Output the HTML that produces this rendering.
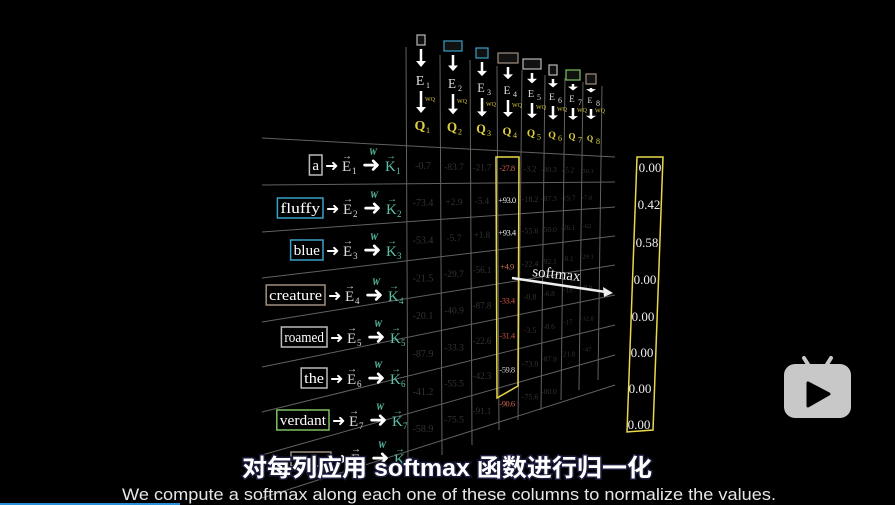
<!DOCTYPE html>
<html><head><meta charset="utf-8"><style>
html,body{margin:0;padding:0;background:#000;width:895px;height:505px;overflow:hidden}
svg{display:block}
.serif{font-family:"Liberation Serif",serif}
</style></head><body>
<svg id="s" width="895" height="505" viewBox="0 0 895 505" xmlns="http://www.w3.org/2000/svg">
<rect width="895" height="505" fill="#000"/>
<g id="grid" stroke="#8a8a8a" stroke-width="1" opacity="0.7"></g>
<g id="content" class="serif"></g>
<polygon points="496,157 519,157 518,386 497,398" fill="none" stroke="#e8d84a" stroke-width="1.5"/>
<polygon points="637,157 663,157 653,430 627,432" fill="none" stroke="#e8d84a" stroke-width="1.5"/>
<g class="serif" fill="#eee" font-size="13">
<text x="650" y="172" text-anchor="middle">0.00</text>
<text x="649" y="209" text-anchor="middle">0.42</text>
<text x="647" y="247" text-anchor="middle">0.58</text>
<text x="645" y="284" text-anchor="middle">0.00</text>
<text x="643" y="321" text-anchor="middle">0.00</text>
<text x="642" y="357" text-anchor="middle">0.00</text>
<text x="640" y="393" text-anchor="middle">0.00</text>
<text x="639" y="429" text-anchor="middle">0.00</text>
</g>
<text x="532" y="276" class="serif" fill="#eee" font-size="15" transform="rotate(6 532 276)">softmax</text>
<line x1="512" y1="278" x2="606" y2="292" stroke="#eee" stroke-width="2.5"/>
<polygon points="613,293 603,287 604,297" fill="#eee"/>
<g fill="#c8c8c8">
<rect x="784" y="364" width="67" height="54" rx="11"/>
<line x1="804" y1="358" x2="809" y2="366" stroke="#c8c8c8" stroke-width="4" stroke-linecap="round"/>
<line x1="831" y1="358" x2="826" y2="366" stroke="#c8c8c8" stroke-width="4" stroke-linecap="round"/>
<polygon points="808,383 808,406 829,394" fill="#000" stroke="#000" stroke-width="3" stroke-linejoin="round"/>
</g>
<text x="447" y="476" text-anchor="middle" font-family="'Liberation Sans','Noto Sans CJK SC',sans-serif" font-size="24" font-weight="bold" fill="#fff" stroke="#1a1a3a" stroke-width="3" paint-order="stroke" textLength="410" lengthAdjust="spacingAndGlyphs">对每列应用 softmax 函数进行归一化</text>
<text x="122" y="500" font-family="'Liberation Sans',sans-serif" font-size="17" fill="#e6e6e6" textLength="654" lengthAdjust="spacingAndGlyphs">We compute a softmax along each one of these columns to normalize the values.</text>
<rect x="0" y="503" width="180" height="2" fill="#2a8fd6"/>
</svg>
<script>
const NS="http://www.w3.org/2000/svg";
const g=document.getElementById('grid'), c=document.getElementById('content');
function el(p,tag,a,txt){const e=document.createElementNS(NS,tag);for(const k in a)e.setAttribute(k,a[k]);if(txt!=null)e.textContent=txt;p.appendChild(e);return e;}
const L=[138,185,232,278,322,367,412,455,498], R=[157,182,207,236,265,295,325,355,385];
const x0=262,x1=615;
for(let i=0;i<9;i++) el(g,'line',{x1:x0,y1:L[i],x2:x1,y2:R[i]});
const V=[[406,47,465],[440,55,455],[470,60,445],[497,66,430],[522,70,420],[545,75,410],[565,78,400],[583,82,390],[602,86,380]];
V.forEach(v=>el(g,'line',{x1:v[0],y1:v[1],x2:v[0]+(v[0]>500?-4:2),y2:v[2]}));
function yAt(i,x){return L[i]+(R[i]-L[i])*(x-x0)/(x1-x0);}
const cols=[423,454,482,507,530,549,568,587];
const data=[
["-0.7","-83.7","-21.7","-27.8","-3.2","-80.3","45.2","-30.1"],
["-73.4","+2.9","-5.4","+93.0","-18.2","-87.3","-19.7","-7.8"],
["-53.4","-5.7","+1.8","+93.4","-55.6","-50.0","-26.1","-62"],
["-21.5","-29.7","-56.1","+4.9","-22.4","-92.1","-8.1","-29.1"],
["-20.1","-40.9","-87.8","-33.4","-0.8","-6.8","-18","-9.8"],
["-87.9","-33.3","-22.6","-31.4","-3.5","-8.6","-17","-32.8"],
["-41.2","-55.5","-42.3","-59.8","-73.0","-87.9","-21.8","-47"],
["-58.9","-75.5","-91.1","-90.6","-75.6","-80.0","",""]];
const hi={0:"#c86050",1:"#eee",2:"#eee",3:"#c87050",4:"#c85040",5:"#c85040",6:"#ccc",7:"#c86050"};
for(let r=0;r<8;r++)for(let k=0;k<8;k++){
 const x=cols[k];const y=(yAt(r,x)+yAt(r+1,x))/2+4;
 const h=k==3;const sz=Math.max(6,10-k*0.5);
 el(c,'text',{x:x,y:y,'text-anchor':'middle','font-size':h?8.5:sz,fill:h?hi[r]:'#333','letter-spacing':h?'-0.5':'0'},data[r][k]);
}
const words=[["a","#bbb"],["fluffy","#3aa0c8"],["blue","#3aa0c8"],["creature","#a09080"],["roamed","#bbb"],["the","#bbb"],["verdant","#7cc060"],["","#a09080"]];
const ry=[165,208,250,295,337,378,420,458], rx=[322,323,323,325,327,327,329,331];
for(let i=0;i<8;i++){
 const y=ry[i],xr=rx[i];const w=words[i][0];
 if(w){const bw=w.length*6.6+6;
  el(c,'rect',{x:xr-bw,y:y-10,width:bw,height:20,fill:'none',stroke:words[i][1],'stroke-width':1.5});
  el(c,'text',{x:xr-bw/2,y:y+5,'text-anchor':'middle','font-size':14.5,fill:'#fff',textLength:bw-6,lengthAdjust:'spacingAndGlyphs'},w);}
 else{el(c,'rect',{x:xr-40,y:y-6,width:40,height:14,fill:'none',stroke:words[i][1],'stroke-width':1.5});}
 el(c,'text',{x:xr+3,y:y+6,'font-size':16,fill:'#fff'},"➜");
 el(c,'text',{x:xr+20,y:y+6,'font-size':15,fill:'#ddd'},"E");
 el(c,'text',{x:xr+20,y:y-6,'font-size':10,fill:'#ddd'},"→");
 el(c,'text',{x:xr+30,y:y+9,'font-size':9,fill:'#ddd'},String(i+1));
 el(c,'text',{x:xr+40,y:y+7,'font-size':22,fill:'#fff'},"➜");
 el(c,'text',{x:xr+47,y:y-10,'font-size':9,'font-style':'italic','font-weight':'bold',fill:'#5cc0a8'},"W");
 el(c,'text',{x:xr+63,y:y+6,'font-size':15,fill:'#5cc0a8'},"K");
 el(c,'text',{x:xr+64,y:y-6,'font-size':10,fill:'#5cc0a8'},"→");
 el(c,'text',{x:xr+74,y:y+9,'font-size':9,fill:'#5cc0a8'},String(i+1));
}
const hx=[421,453,482,508,532,553,573,591], ht=[35,41,48,53,59,65,70,74];
const hw=[8,18,12,20,18,8,14,10], hc=["#bbb","#3aa0c8","#3aa0c8","#a09080","#bbb","#bbb","#7cc060","#a09080"];
for(let k=0;k<8;k++){
 const x=hx[k],t=ht[k],s=1-k*0.06;
 el(c,'rect',{x:x-hw[k]/2,y:t,width:hw[k],height:10,fill:'#111',stroke:hc[k],'stroke-width':1.2});
 el(c,'line',{x1:x,y1:t+14,x2:x,y2:t+28*s,stroke:'#fff','stroke-width':2.5});
 el(c,'polygon',{points:`${x-5},${t+26*s} ${x+5},${t+26*s} ${x},${t+32*s}`,fill:'#fff'});
 const ey=t+50*s;
 el(c,'text',{x:x-1,y:ey,'text-anchor':'middle','font-size':14*s,fill:'#ddd'},"E");
 el(c,'text',{x:x+5,y:ey+3,'font-size':8,fill:'#ddd'},String(k+1));
 el(c,'line',{x1:x,y1:ey+6,x2:x,y2:ey+24*s,stroke:'#fff','stroke-width':2.5});
 el(c,'polygon',{points:`${x-5},${ey+22*s} ${x+5},${ey+22*s} ${x},${ey+28*s}`,fill:'#fff'});
 el(c,'text',{x:x+4,y:ey+16*s,'font-size':6,fill:'#d8c840'},"WQ");
 const qy=130+k*1.6;
 el(c,'text',{x:x-1,y:qy,'text-anchor':'middle','font-size':14*s,'font-weight':'bold',fill:'#e0d040'},"Q");
 el(c,'text',{x:x+5,y:qy+3,'font-size':8,fill:'#e0d040'},String(k+1));
}
</script>
</body></html>
